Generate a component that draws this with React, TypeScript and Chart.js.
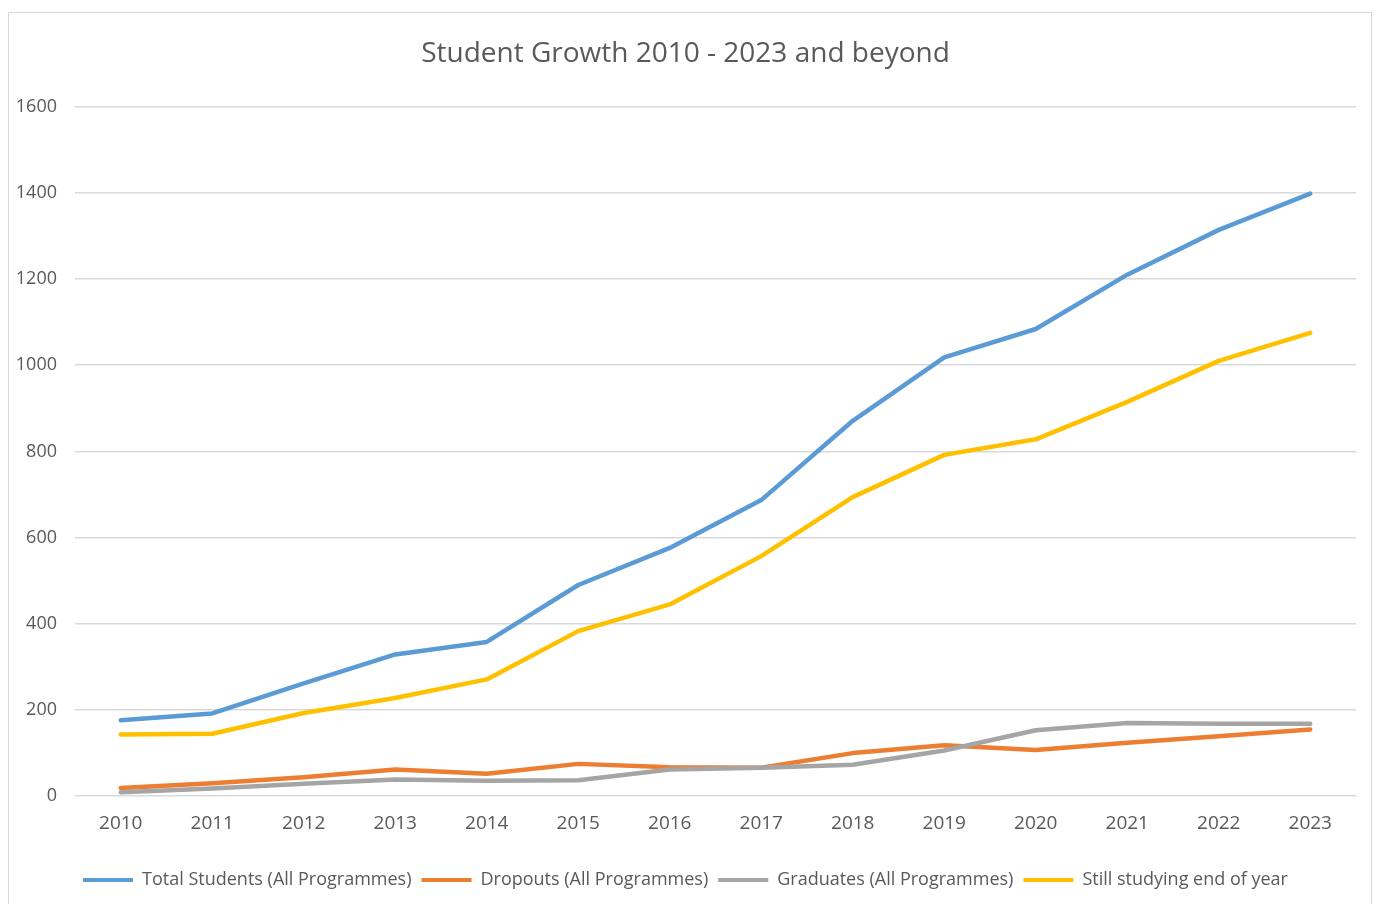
import React, { useEffect, useRef } from "react";
import { Chart, registerables } from "chart.js";

Chart.register(...registerables);

const years = ["2010", "2011", "2012", "2013", "2014", "2015", "2016", "2017", "2018", "2019", "2020", "2021", "2022", "2023"];
const totalStudents = [176, 192, 262, 329, 358, 490, 576, 687, 871, 1018, 1084, 1210, 1314, 1398];
const dropouts = [19, 30, 44, 62, 52, 75, 67, 66, 100, 118, 107, 124, 139, 155];
const graduates = [9, 18, 29, 39, 36, 37, 62, 66, 73, 106, 153, 170, 168, 168];
const stillStudying = [143, 145, 193, 228, 271, 383, 445, 557, 694, 792, 828, 915, 1010, 1075];

const seriesNames = [
  "Total Students (All Programmes)",
  "Dropouts (All Programmes)",
  "Graduates (All Programmes)",
  "Still studying end of year",
];
const seriesColors = ["#5B9BD5", "#ED7D31", "#A5A5A5", "#FFC000"];
const yTicks = { min: 0, max: 1600, step: 200 };
const titleText = "Student Growth 2010 - 2023 and beyond";

const FONT = "'Open Sans', 'Liberation Sans', sans-serif";
const TEXT = "#595959";

export default function App() {
  const ref = useRef<HTMLCanvasElement | null>(null);

  useEffect(() => {
    if (!ref.current) return;
    const values = [totalStudents, dropouts, graduates, stillStudying];
    const chart = new Chart(ref.current, {
      type: "line",
      data: {
        labels: years,
        datasets: values.map((v, i) => ({
          label: seriesNames[i],
          data: v,
          borderColor: seriesColors[i],
          backgroundColor: seriesColors[i],
          borderWidth: 4.5,
          pointRadius: 0,
          pointHoverRadius: 0,
          tension: 0,
          borderCapStyle: "round" as const,
          borderJoinStyle: "round" as const,
          fill: false,
          order: 4 - i,
        })),
      },
      options: {
        responsive: false,
        animation: false,
        layout: { padding: { left: 6, right: 15, top: 0, bottom: 4 } },
        plugins: {
          tooltip: { enabled: false },
          title: {
            display: true,
            text: titleText,
            color: TEXT,
            font: { family: FONT, size: 28, weight: "normal" as const, lineHeight: 1.2 },
            padding: { top: 24, bottom: 36 },
          },
          legend: {
            position: "bottom",
            labels: {
              boxWidth: 50,
              boxHeight: 4,
              padding: 10,
              color: TEXT,
              font: { family: FONT, size: 18 },
              sort: (a: any, b: any) => a.datasetIndex - b.datasetIndex,
              generateLabels: (c: any) =>
                Chart.defaults.plugins.legend.labels
                  .generateLabels(c)
                  .map((l: any) => ({
                    ...l,
                    lineWidth: 0,
                    fillStyle: seriesColors[l.datasetIndex],
                    strokeStyle: seriesColors[l.datasetIndex],
                  }))
                  .sort((a: any, b: any) => a.datasetIndex - b.datasetIndex),
            },
          },
        },
        scales: {
          x: {
            offset: true,
            grid: { display: false, drawTicks: false },
            border: { display: false },
            ticks: { color: TEXT, padding: 16, font: { family: FONT, size: 19 }, maxRotation: 0 },
            afterFit: (s: any) => {
              s.height += 10;
            },
          },
          y: {
            min: yTicks.min,
            max: yTicks.max,
            ticks: {
              stepSize: yTicks.step,
              color: TEXT,
              padding: 18,
              font: { family: FONT, size: 18 },
              callback: (v: any) => String(v),
            },
            grid: { color: "#D9D9D9", lineWidth: 1.5, drawTicks: false },
            border: { display: false },
            afterFit: (s: any) => {
              s.width = 60;
            },
          },
        },
      },
    });
    return () => chart.destroy();
  }, []);

  return (
    <div
      style={{
        marginTop: 4,
        width: 1362,
        height: 900,
        border: "1px solid #D9D9D9",
        background: "#fff",
      }}
    >
      <canvas ref={ref} width={1362} height={890} style={{ display: "block" }} />
    </div>
  );
}
